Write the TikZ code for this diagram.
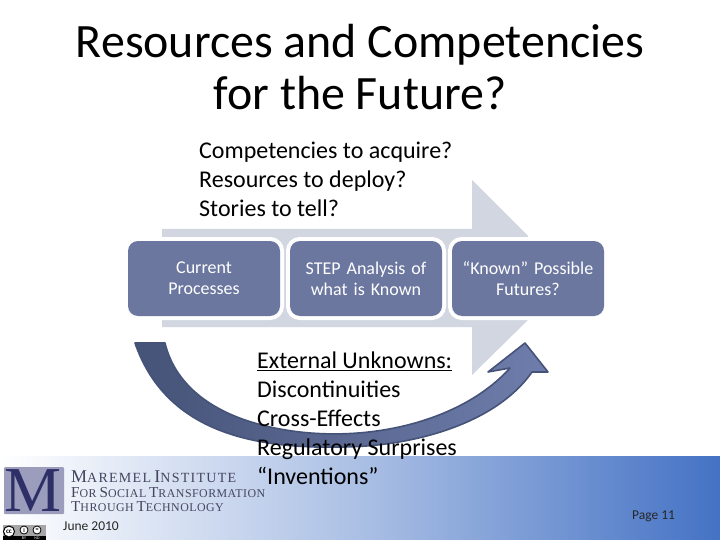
\documentclass[tikz,border=0pt]{standalone}
\usepackage{fontspec}
\setmainfont{Carlito}
\newfontfamily\logofont[LetterSpace=4]{Liberation Serif}
\newfontfamily\logowide[LetterSpace=9]{Liberation Serif}
\newcommand{\fsz}[2]{\fontsize{#1}{#2}\selectfont}
\newcommand{\smcp}[2]{{\fsz{18}{18}#1}{\fsz{14}{14}#2}}
\newcommand{\smcq}[2]{{\fsz{15.2}{15}#1}{\fsz{11.9}{12}#2}}
\definecolor{boxblue}{HTML}{6B779F}
\definecolor{bigarrow}{HTML}{D2D6E0}
\definecolor{bandblue}{HTML}{4472C4}
\definecolor{curvedark}{HTML}{465378}
\definecolor{curvemid}{HTML}{6E7DAB}
\definecolor{logobg}{HTML}{9C9CBC}
\definecolor{logoink}{HTML}{2E2F66}
\definecolor{logotext}{HTML}{45455F}
\tikzset{
  x=1pt,y=-1pt,
  procbox/.style={rectangle,rounded corners=10pt,fill=boxblue,text=white,
    minimum width=152pt,minimum height=75pt,inner sep=0pt,align=center,
    text width=150pt,font=\fsz{18}{21},preaction={draw=white,line width=8pt}},
  titletext/.style={align=center,font=\fsz{47.9}{52},inner sep=0pt},
  bodytext/.style={align=left,anchor=north west,inner sep=0pt,font=\fsz{24}{29}},
  logotxt/.style={anchor=base west,inner sep=0pt,text=logotext,font=\logofont},
  smalltxt/.style={anchor=base west,inner sep=0pt,font=\fsz{13.5}{14},text=black!85},
}
\begin{document}
\begin{tikzpicture}
\useasboundingbox (0,0) rectangle (720,540);
\fill[white] (0,0) rectangle (720,540);
% band
\path[left color=white,right color=bandblue,middle color=white!55!bandblue] (0,456) rectangle (720,540);
% big grey arrow
\fill[bigarrow] (162,229) -- (472,229) -- (472,180) -- (528,236) -- (528,320) -- (472,375) -- (472,327) -- (162,327) -- cycle;
% boxes
\node[procbox] (current) at (204,278.5) {Current\\Processes};
\node[procbox] (step) at (366,278.5) {STEP Analysis of\\what is Known};
\node[procbox] (futures) at (528,278.5) {“Known” Possible\\Futures?};
% curved arrow
\draw[line width=1.6pt,draw=curvedark,left color=curvedark,right color=curvemid,line join=round]
  (135,343) -- (165,343)
  .. controls (175,385) and (215,422) .. (300,432)
  .. controls (380,441) and (465,418) .. (510,368)
  -- (488,372) -- (525,343) -- (548,372) -- (532,372)
  .. controls (495,425) and (410,447) .. (340,447)
  .. controls (250,449) and (165,430) .. (135,343) -- cycle;
% titles
\node[titletext] (title) at (360,67) {Resources and Competencies\\for the Future?};
\node[bodytext] (questions) at (199,142) {Competencies to acquire?\\Resources to deploy?\\Stories to tell?};
\node[bodytext] (unknowns) at (257,351.5) {\underline{External Unknowns:}\\Discontinuities\\Cross-Effects\\Regulatory Surprises\\“Inventions”};
% logo
\node[rectangle,rounded corners=1pt,fill=logobg,minimum width=60pt,minimum height=47pt,inner sep=0pt] (logobox) at (34,490.5) {};
\node[inner sep=0pt,text=logoink,font=\logofont\fsz{64}{64}] (logom) at (33,491) {M};
\node[logotxt,font=\logowide] (l1) at (71,482.5) {\smcp{M}{AREMEL} \smcp{I}{NSTITUTE}};
\node[logotxt] (l2) at (71,497) {\smcq{F}{OR} \smcq{S}{OCIAL} \smcq{T}{RANSFORMATION}};
\node[logotxt] (l3) at (71,511) {\smcq{T}{HROUGH} \smcq{T}{ECHNOLOGY}};
\node[smalltxt] (date) at (63,530) {June 2010};
\node[smalltxt] (page) at (632,519) {Page 11};
% cc badge
\fill[black!35] (3,525) rectangle (46,540);
\fill[black] (3,536) rectangle (46,540);
\node[circle,draw=black,line width=1pt,fill=white,inner sep=0pt,minimum size=11pt,font=\bfseries\fsz{7}{7}] (cc) at (9,531.5) {cc};
\node[circle,draw=black,line width=.8pt,fill=white,inner sep=0pt,minimum size=8pt,font=\bfseries\fsz{6}{6}] (by) at (24,530) {i};
\node[circle,draw=black,line width=.8pt,fill=white,inner sep=0pt,minimum size=8pt,font=\bfseries\fsz{6}{6}] (nd) at (37,530) {=};
\node[inner sep=0pt,text=white,font=\fsz{4}{4}] (bylab) at (24,538) {BY};
\node[inner sep=0pt,text=white,font=\fsz{4}{4}] (ndlab) at (37,538) {ND};
\end{tikzpicture}
\end{document}
